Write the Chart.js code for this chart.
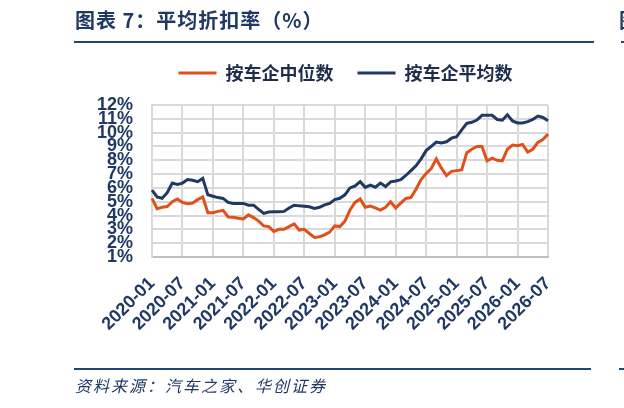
<!DOCTYPE html>
<html><head><meta charset="utf-8">
<script src="https://cdn.jsdelivr.net/npm/chart.js@4.4.1/dist/chart.umd.min.js"></script>
<style>
html,body{margin:0;padding:0;width:624px;height:408px;overflow:hidden;background:#fff;}
#c{position:absolute;left:0;top:0;}
.title{position:absolute;left:75px;top:5px;font-family:"Noto Sans CJK SC";font-weight:bold;font-size:20px;letter-spacing:1px;color:#1F3864;white-space:nowrap;}
.hr{position:absolute;height:2px;background:#1F4478;}
.src{position:absolute;left:75px;top:373px;font-family:"Noto Sans CJK SC";font-style:italic;font-size:16px;letter-spacing:2px;color:#1F3864;white-space:nowrap;}
.frag{position:absolute;left:619px;top:5px;font-family:"Noto Sans CJK SC";font-weight:bold;font-size:20px;color:#1F3864;}
</style></head>
<body>
<canvas id="c" width="624" height="408"></canvas>
<div class="title">图表 7：平均折扣率（%）</div>
<div class="hr" style="left:74px;top:41px;width:520px;"></div>
<div class="hr" style="left:621px;top:41px;width:3px;"></div>
<div class="frag">图</div>
<div class="hr" style="left:74px;top:368px;width:517px;"></div>
<div class="hr" style="left:619px;top:368px;width:5px;"></div>
<div class="src">资料来源：汽车之家、华创证券</div>
<script>
const categories = [
"2020-01","2020-02","2020-03","2020-04","2020-05","2020-06","2020-07","2020-08","2020-09","2020-10","2020-11","2020-12",
"2021-01","2021-02","2021-03","2021-04","2021-05","2021-06","2021-07","2021-08","2021-09","2021-10","2021-11","2021-12",
"2022-01","2022-02","2022-03","2022-04","2022-05","2022-06","2022-07","2022-08","2022-09","2022-10","2022-11","2022-12",
"2023-01","2023-02","2023-03","2023-04","2023-05","2023-06","2023-07","2023-08","2023-09","2023-10","2023-11","2023-12",
"2024-01","2024-02","2024-03","2024-04","2024-05","2024-06","2024-07","2024-08","2024-09","2024-10","2024-11","2024-12",
"2025-01","2025-02","2025-03","2025-04","2025-05","2025-06","2025-07","2025-08","2025-09","2025-10","2025-11","2025-12",
"2026-01","2026-02","2026-03","2026-04","2026-05","2026-06","2026-07"];

const medianSeries = [
5.24,4.5,4.6,4.65,5.0,5.2,4.95,4.85,4.9,5.15,5.35,4.2,
4.2,4.3,4.38,3.9,3.88,3.8,3.75,4.05,3.85,3.6,3.25,3.2,
2.85,3.0,3.0,3.2,3.4,2.95,3.0,2.7,2.42,2.46,2.6,2.8,
3.25,3.2,3.6,4.4,4.95,5.2,4.6,4.68,4.55,4.4,4.6,5.0,
4.55,4.9,5.24,5.3,5.9,6.6,7.05,7.4,8.1,7.45,6.9,7.2,
7.25,7.3,8.55,8.8,9.0,9.0,7.95,8.15,8.0,7.95,8.8,9.1,
9.05,9.15,8.6,8.8,9.3,9.5,9.9];

const meanSeries = [
5.84,5.35,5.25,5.65,6.35,6.25,6.35,6.6,6.55,6.45,6.69,5.5,
5.4,5.3,5.24,4.95,4.88,4.88,4.88,4.75,4.75,4.45,4.15,4.25,
4.27,4.27,4.3,4.55,4.75,4.7,4.68,4.63,4.51,4.6,4.77,4.88,
5.15,5.25,5.5,6.0,6.15,6.45,6.04,6.2,6.05,6.35,6.1,6.44,
6.5,6.6,6.9,7.25,7.6,8.1,8.7,9.0,9.32,9.25,9.34,9.6,
9.7,10.2,10.67,10.75,10.91,11.25,11.25,11.25,10.95,10.9,11.3,10.85,
10.7,10.7,10.8,10.95,11.2,11.1,10.86];

const seriesNames = ["按车企中位数","按车企平均数"];
const yMin = 1, yMax = 12;

const ORANGE = '#E0501B', NAVY = '#1F3864';

const legendFit = {
  id:'legendFit',
  beforeInit(chart){
    const l = chart.legend;
    if(!l) return;
    const orig = l.fit;
    l.fit = function(){ orig.call(this); this.height = 65; };
  },
  afterLayout(chart){
    const l = chart.legend;
    if(!l) return;
    l.left += 25; l.right += 25;
  }
};

new Chart(document.getElementById('c'), {
  type:'line',
  data:{
    labels: categories,
    datasets:[
      {label:seriesNames[0], data:medianSeries, borderColor:ORANGE, backgroundColor:ORANGE, borderWidth:3, pointRadius:0, tension:0},
      {label:seriesNames[1], data:meanSeries, borderColor:NAVY, backgroundColor:NAVY, borderWidth:3, pointRadius:0, tension:0}
    ]
  },
  options:{
    responsive:false, animation:false,
    layout:{padding:{left:93,right:76,top:40,bottom:0}},
    plugins:{
      tooltip:{enabled:false},
      legend:{
        position:'top', align:'center',
        labels:{
          boxWidth:38, boxHeight:3, padding:24, color:'#1F2D4D',
          font:{family:'"Noto Sans CJK SC"', size:18, weight:'bold'},
          generateLabels(chart){
            const items = Chart.defaults.plugins.legend.labels.generateLabels(chart);
            items.forEach(i=>{ i.lineWidth = 0; i.fillStyle = i.strokeStyle; });
            return items;
          }
        }
      }
    },
    scales:{
      x:{
        type:'category',
        grid:{color:'#D9D9D9', lineWidth:2, drawTicks:false},
        border:{color:'#BFBFBF', width:2},
        ticks:{
          autoSkip:false, maxRotation:45, minRotation:45, padding:16, color:NAVY,
          font:{family:'"Liberation Sans"', size:18, weight:'bold'},
          callback:function(v,i){ return i%6===0 ? this.getLabelForValue(v) : null; }
        },
        afterFit(s){ s.height = 151; s.paddingLeft = 0; s.paddingRight = 0; }
      },
      y:{
        min:yMin, max:yMax,
        grid:{color:'#D9D9D9', lineWidth:2, drawTicks:false},
        border:{color:'#D9D9D9', width:2},
        ticks:{stepSize:1, autoSkip:false, padding:19, color:NAVY,
          font:{family:'"Liberation Sans"', size:18, weight:'bold'},
          callback:v=>v+'%'},
        afterFit(s){ s.width = 59; s.paddingTop = 0; s.paddingBottom = 0; }
      }
    }
  },
  plugins:[legendFit]
});
</script>
</body></html>
